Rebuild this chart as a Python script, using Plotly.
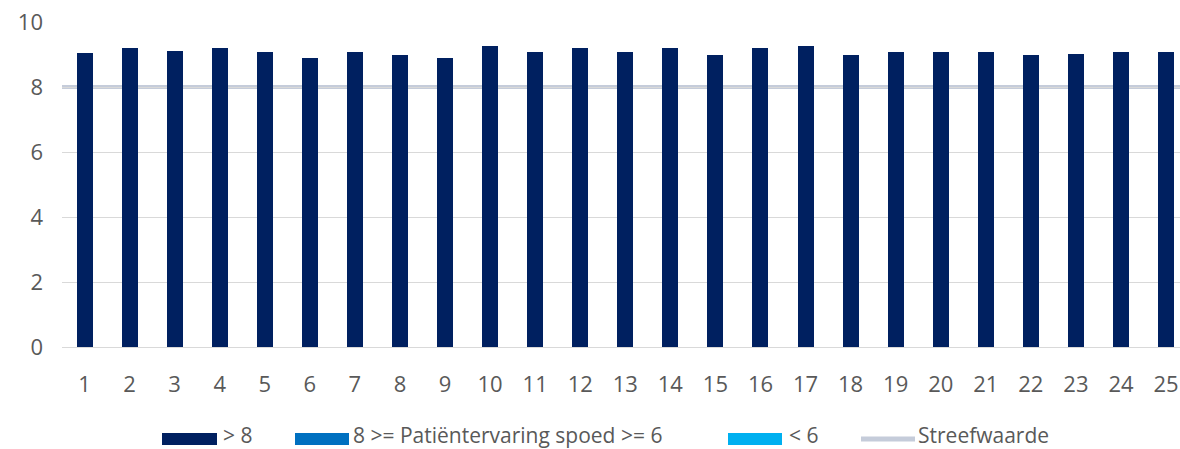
import plotly.graph_objects as go

categories = [str(i) for i in range(1, 26)]
values_gt8 = [9.06, 9.19, 9.12, 9.19, 9.08, 8.88, 9.08, 8.98, 8.88, 9.27,
              9.08, 9.19, 9.08, 9.19, 8.98, 9.19, 9.27, 8.98, 9.08, 9.08,
              9.08, 8.98, 9.02, 9.08, 9.08]
values_mid = [None] * 25
values_lt6 = [None] * 25
target = 8

series_names = ["> 8", "8 >= Patiëntervaring spoed >= 6", "< 6"]
series_colors = ["#002060", "#0070C0", "#00B0F0"]
target_name = "Streefwaarde"
target_color = "#C5CCDA"

font_family = "'Open Sans', Lato, sans-serif"
text_color = "#595959"

W, H = 1180, 449
ML, MR, MT, MB = 62, 0, 22, 102
PW, PH = W - ML - MR, H - MT - MB


def px_x(p):  # page pixel -> paper fraction
    return (p - ML) / PW


def px_y(p):
    return (H - MB - p) / PH


fig = go.Figure()
for name, vals, col in zip(series_names, [values_gt8, values_mid, values_lt6], series_colors):
    fig.add_trace(go.Bar(x=categories, y=vals, name=name, marker_color=col,
                         marker_line_width=0, showlegend=False))

# target line across the plot, above grid and below bars
fig.add_shape(type="line", xref="paper", x0=0, x1=1, yref="y", y0=target, y1=target,
              line=dict(color=target_color, width=4), layer="between")

# custom legend (wide swatches like the original)
swatch_y = 439
text_y = 435
swatches = [(162, 217), (295, 349), (728, 782)]
text_x = [222, 352, 788]
for (a, b), tx, name, col in zip(swatches, text_x, series_names, series_colors):
    fig.add_shape(type="rect", xref="paper", yref="paper",
                  x0=px_x(a), x1=px_x(b), y0=px_y(swatch_y + 6), y1=px_y(swatch_y - 6),
                  fillcolor=col, line_width=0, layer="above")
    fig.add_annotation(x=px_x(tx), y=px_y(text_y), xref="paper", yref="paper",
                       text=name, showarrow=False, xanchor="left", yanchor="middle",
                       borderpad=0,
                       font=dict(size=21, color=text_color, family=font_family))
fig.add_shape(type="line", xref="paper", yref="paper",
              x0=px_x(861), x1=px_x(915), y0=px_y(swatch_y), y1=px_y(swatch_y),
              line=dict(color=target_color, width=5), layer="above")
fig.add_annotation(x=px_x(917), y=px_y(text_y), xref="paper", yref="paper",
                   text=target_name, showarrow=False, xanchor="left", yanchor="middle",
                   borderpad=0,
                   font=dict(size=21, color=text_color, family=font_family))

fig.update_layout(
    width=W, height=H,
    margin=dict(l=ML, r=MR, t=MT, b=MB, autoexpand=False),
    barmode="stack", bargap=0.645,
    plot_bgcolor="white", paper_bgcolor="white",
    font=dict(family=font_family, color=text_color, size=22),
    showlegend=False,
    xaxis=dict(type="category", range=[-0.5, 24.31], showgrid=False, ticks="",
               showline=False, automargin=False, ticklabelstandoff=22,
               ticklabeloverflow="allow",
               tickfont=dict(size=22, color=text_color)),
    yaxis=dict(range=[0, 10], dtick=2, showgrid=True, gridcolor="#D9D9D9", gridwidth=1,
               zeroline=True, zerolinecolor="#D9D9D9", zerolinewidth=1, automargin=False,
               ticklabeloverflow="allow",
               ticks="", ticklabelstandoff=18, tickfont=dict(size=22, color=text_color)),
)

fig.write_html(
    "out.html",
    config={"displayModeBar": False},
    post_script="document.body.style.margin='0';document.body.style.overflow='hidden';",
)
